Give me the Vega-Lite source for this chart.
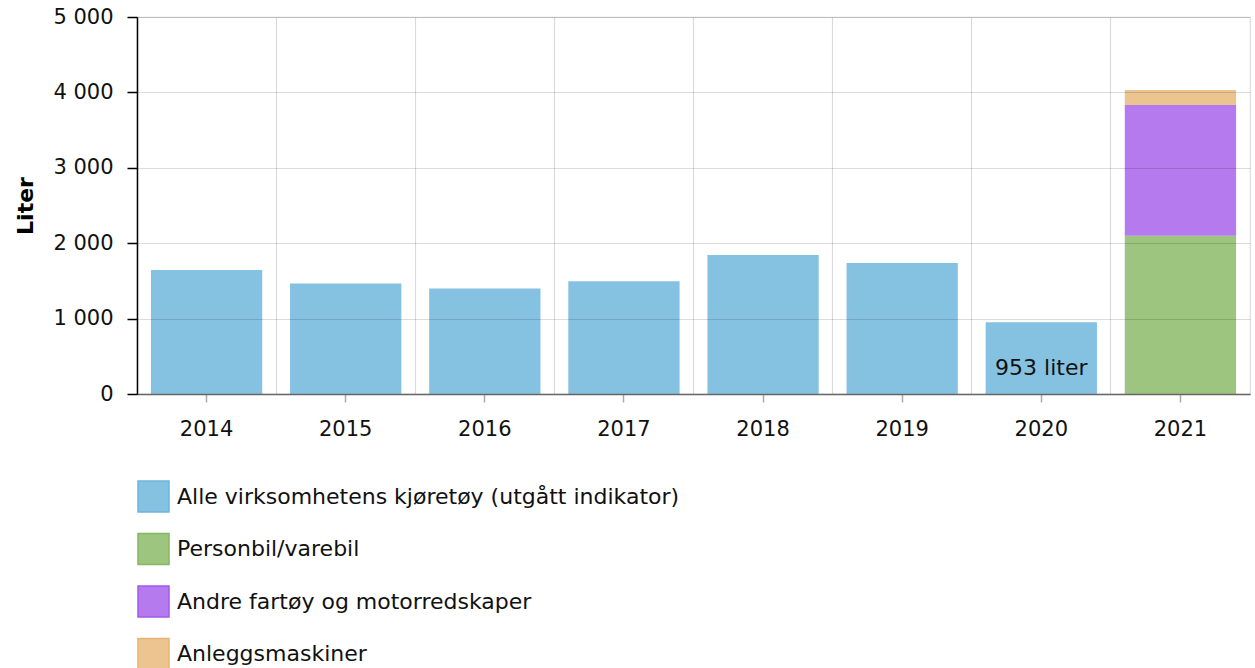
{
  "$schema": "https://vega.github.io/schema/vega-lite/v6.json",
  "width": 1113,
  "height": 377,
  "autosize": {"type": "none"},
  "padding": {"left": 137, "top": 17, "right": 5, "bottom": 274},
  "config": {"font": "DejaVu Sans", "view": {"stroke": "#dcdcdc", "strokeWidth": 1.2}},
  "data": {
    "values": [
      {"year": "2014", "series": "Alle virksomhetens kjøretøy (utgått indikator)", "order": 0, "value": 1643},
      {"year": "2015", "series": "Alle virksomhetens kjøretøy (utgått indikator)", "order": 0, "value": 1466},
      {"year": "2016", "series": "Alle virksomhetens kjøretøy (utgått indikator)", "order": 0, "value": 1400},
      {"year": "2017", "series": "Alle virksomhetens kjøretøy (utgått indikator)", "order": 0, "value": 1497},
      {"year": "2018", "series": "Alle virksomhetens kjøretøy (utgått indikator)", "order": 0, "value": 1842},
      {"year": "2019", "series": "Alle virksomhetens kjøretøy (utgått indikator)", "order": 0, "value": 1736},
      {"year": "2020", "series": "Alle virksomhetens kjøretøy (utgått indikator)", "order": 0, "value": 953, "label": "953 liter"},
      {"year": "2021", "series": "Personbil/varebil", "order": 1, "value": 2098},
      {"year": "2021", "series": "Andre fartøy og motorredskaper", "order": 2, "value": 1735},
      {"year": "2021", "series": "Anleggsmaskiner", "order": 3, "value": 199}
    ]
  },
  "layer": [
    {
      "mark": {"type": "bar", "strokeWidth": 0},
      "encoding": {
        "x": {
          "field": "year", "type": "ordinal",
          "scale": {"paddingInner": 0.2, "paddingOuter": 0.1},
          "axis": {"orient": "bottom", "grid": true, "bandPosition": -0.125, "labels": false, "ticks": false, "domain": false, "title": null, "gridColor": "rgba(0,0,0,0.14)", "gridWidth": 1.2, "zindex": 1}
        },
        "y": {
          "field": "value", "type": "quantitative", "stack": "zero",
          "scale": {"domain": [0, 5000]},
          "axis": {
            "values": [0, 1000, 2000, 3000, 4000, 5000],
            "labelExpr": "replace(format(datum.value, ','), ',', ' ')",
            "title": "Liter", "titleFontSize": 22, "titleFontWeight": "bold", "titleColor": "#000", "titlePadding": 15,
            "domainColor": "#000", "domainWidth": 1.5, "tickColor": "#000", "tickSize": 10, "tickWidth": 1.5,
            "labelPadding": 14, "labelFontSize": 21, "labelColor": "#111",
            "grid": true, "gridColor": "rgba(0,0,0,0.14)", "gridWidth": 1.2, "zindex": 1
          }
        },
        "color": {
          "field": "series", "type": "nominal",
          "scale": {
            "domain": ["Alle virksomhetens kjøretøy (utgått indikator)", "Personbil/varebil", "Andre fartøy og motorredskaper", "Anleggsmaskiner"],
            "range": ["#85C2E2", "#9DC57F", "#B57AEE", "#EBC48F"]
          },
          "legend": {
            "orient": "none", "legendX": 0, "legendY": 463, "direction": "vertical", "title": null,
            "symbolType": "square", "symbolSize": 961, "symbolStrokeWidth": 1.5,
            "labelFontSize": 22, "labelColor": "#111", "rowPadding": 15.5, "labelOffset": 7, "labelLimit": 800
          }
        },
        "stroke": {
          "field": "series", "type": "nominal",
          "scale": {
            "domain": ["Alle virksomhetens kjøretøy (utgått indikator)", "Personbil/varebil", "Andre fartøy og motorredskaper", "Anleggsmaskiner"],
            "range": ["#6BB5DD", "#85B75F", "#A35AEA", "#E6B573"]
          },
          "legend": {
            "orient": "none", "legendX": 0, "legendY": 463, "direction": "vertical", "title": null,
            "symbolType": "square", "symbolSize": 961, "symbolStrokeWidth": 1.5,
            "labelFontSize": 22, "labelColor": "#111", "rowPadding": 15.5, "labelOffset": 7, "labelLimit": 800
          }
        },
        "order": {"field": "order", "type": "quantitative"}
      }
    },
    {
      "transform": [{"filter": "isValid(datum.label)"}],
      "mark": {"type": "text", "fontSize": 22, "baseline": "alphabetic", "dy": -19, "color": "#111"},
      "encoding": {
        "x": {
          "field": "year", "type": "ordinal",
          "axis": {"orient": "bottom", "grid": false, "title": null, "labelAngle": 0, "labelFontSize": 21, "labelColor": "#111", "labelPadding": 16, "domainColor": "#666", "domainWidth": 1.5, "tickColor": "#aaa", "tickSize": 8, "tickWidth": 1.5, "zindex": 1}
        },
        "y": {"datum": 0, "type": "quantitative"},
        "text": {"field": "label"}
      }
    }
  ],
  "resolve": {"axis": {"x": "independent"}}
}
